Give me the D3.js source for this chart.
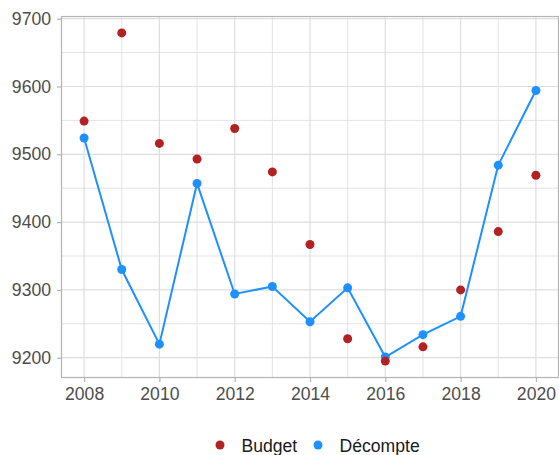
<!DOCTYPE html>
<html>
<head>
<meta charset="utf-8">
<script src="https://cdn.jsdelivr.net/npm/d3@7"></script>
<style>
  body { margin: 0; background: #fff; }
  svg text { font-family: "Liberation Sans", Arial, sans-serif; }
</style>
</head>
<body>
<div id="graph"></div>
<script>
const years = [2008, 2009, 2010, 2011, 2012, 2013, 2014, 2015, 2016, 2017, 2018, 2019, 2020];
const budget = [9549, 9679, 9516, 9493, 9538, 9474, 9367, 9228, 9195, 9216, 9300, 9386, 9469];
const decompte = [9524, 9330, 9220, 9457, 9294, 9305, 9253, 9303, 9201, 9234, 9261, 9484, 9594];
const xTicks = [2008, 2010, 2012, 2014, 2016, 2018, 2020];
const yTicks = [9200, 9300, 9400, 9500, 9600, 9700];
const seriesNames = ['Budget', 'Décompte'];

const colors = { Budget: '#b22222', 'Décompte': '#1e90ff' };

const W = 559;
const H = 455;
const panel = { left: 61.5, top: 16.5, right: 558.5, bottom: 377.5 };
const fontSize = '17.6px';

const svg = d3.select('#graph')
  .append('svg')
  .attr('width', W)
  .attr('height', H);

const xScale = d3.scaleLinear()
  .domain([2008 - 0.6, 2020 + 0.6])
  .range([panel.left, panel.right]);

const allVals = budget.concat(decompte);
const yMin = d3.min(allVals);
const yMax = d3.max(allVals);
const pad = (yMax - yMin) * 0.05;
const yScale = d3.scaleLinear()
  .domain([yMin - pad, yMax + pad])
  .range([panel.bottom, panel.top]);

// grid (minor then major)
const grid = svg.append('g').attr('class', 'grid');
const minorX = years.filter((y) => y % 2 === 1);
const minorY = [9250, 9350, 9450, 9550, 9650];

grid.selectAll('.vminor').data(minorX).enter().append('line')
  .attr('x1', (d) => xScale(d)).attr('x2', (d) => xScale(d))
  .attr('y1', panel.top).attr('y2', panel.bottom)
  .attr('stroke', '#e3e3e3').attr('stroke-width', 1);
grid.selectAll('.hminor').data(minorY).enter().append('line')
  .attr('x1', panel.left).attr('x2', panel.right)
  .attr('y1', (d) => yScale(d)).attr('y2', (d) => yScale(d))
  .attr('stroke', '#e3e3e3').attr('stroke-width', 1);
grid.selectAll('.vmajor').data(xTicks).enter().append('line')
  .attr('x1', (d) => xScale(d)).attr('x2', (d) => xScale(d))
  .attr('y1', panel.top).attr('y2', panel.bottom)
  .attr('stroke', '#dedede').attr('stroke-width', 1.2);
grid.selectAll('.hmajor').data(yTicks).enter().append('line')
  .attr('x1', panel.left).attr('x2', panel.right)
  .attr('y1', (d) => yScale(d)).attr('y2', (d) => yScale(d))
  .attr('stroke', '#dedede').attr('stroke-width', 1.2);

// axes
const xAxis = d3.axisBottom(xScale).tickValues(xTicks).tickFormat(d3.format('d'))
  .tickSize(4.5).tickPadding(6);
const yAxis = d3.axisLeft(yScale).tickValues(yTicks).tickFormat(d3.format('d'))
  .tickSize(4.5).tickPadding(6);

const gx = svg.append('g')
  .attr('transform', `translate(0, ${panel.bottom})`)
  .call(xAxis);
const gy = svg.append('g')
  .attr('transform', `translate(${panel.left}, 0)`)
  .call(yAxis);

[gx, gy].forEach((g) => {
  g.select('.domain').remove();
  g.selectAll('.tick line').attr('stroke', '#b3b3b3').attr('stroke-width', 1.2);
  g.selectAll('.tick text')
    .attr('fill', '#4d4d4d')
    .style('font-size', fontSize);
});

// line
const line = d3.line()
  .x((d, i) => xScale(years[i]))
  .y((d) => yScale(d));

svg.append('path')
  .datum(decompte)
  .attr('fill', 'none')
  .attr('stroke', colors['Décompte'])
  .attr('stroke-width', 2)
  .attr('d', line);

svg.append('g').selectAll('circle')
  .data(decompte).enter().append('circle')
  .attr('cx', (d, i) => xScale(years[i]))
  .attr('cy', (d) => yScale(d))
  .attr('r', 4.5)
  .attr('fill', colors['Décompte']);

svg.append('g').selectAll('circle')
  .data(budget).enter().append('circle')
  .attr('cx', (d, i) => xScale(years[i]))
  .attr('cy', (d) => yScale(d))
  .attr('r', 4.5)
  .attr('fill', colors.Budget);

// panel border
svg.append('rect')
  .attr('x', panel.left).attr('y', panel.top)
  .attr('width', panel.right - panel.left)
  .attr('height', panel.bottom - panel.top)
  .attr('fill', 'none')
  .attr('stroke', '#b3b3b3')
  .attr('stroke-width', 1.2);

// legend
const legendX = [220, 318];
const legend = svg.append('g').selectAll('.legend')
  .data(seriesNames).enter().append('g')
  .attr('transform', (d, i) => `translate(${legendX[i]}, 445)`);

legend.append('circle')
  .attr('r', 4.5)
  .attr('fill', (d) => colors[d]);

legend.append('text')
  .attr('x', 21.5)
  .attr('y', 6.5)
  .attr('fill', '#1a1a1a')
  .style('font-size', fontSize)
  .text((d) => d);
</script>
</body>
</html>
